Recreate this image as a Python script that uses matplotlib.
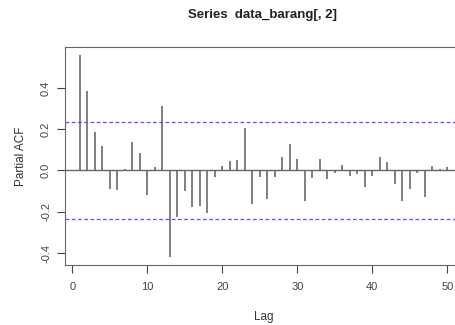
import matplotlib
matplotlib.use("Agg")
import matplotlib.pyplot as plt

plt.rcParams['font.family'] = ['Liberation Sans', 'DejaVu Sans']

# partial autocorrelation values, lags 1..50
lags = list(range(1, 51))
pacf = [0.560, 0.385, 0.185, 0.119, -0.088, -0.093, 0.008, 0.140, 0.084, -0.120,
        0.016, 0.313, -0.418, -0.224, -0.100, -0.176, -0.173, -0.208, -0.032, 0.023,
        0.044, 0.051, 0.205, -0.162, -0.030, -0.138, -0.030, 0.064, 0.127, 0.056,
        -0.146, -0.036, 0.055, -0.041, -0.013, 0.027, -0.029, -0.018, -0.082, -0.026,
        0.064, 0.040, -0.064, -0.146, -0.088, -0.010, -0.130, 0.023, 0.006, 0.016]
ci = 0.234
xticks = [0, 10, 20, 30, 40, 50]
yticks = [-0.4, -0.2, 0.0, 0.2, 0.4]

fig = plt.figure(figsize=(4.55, 3.25), dpi=100)
ax = fig.add_axes([65 / 455, 60 / 325, 397 / 455, 218 / 325])

ax.vlines(lags, 0, pacf, color='#6a6a6a', lw=1.2)
ax.axhline(0, color='#666666', lw=1.0)
ax.axhline(ci, color='#5555ff', lw=0.9, ls=(0, (3, 2)))
ax.axhline(-ci, color='#5555ff', lw=0.9, ls=(0, (3, 2)))

ax.set_xlim(-0.96, 51.96)
ax.set_ylim(-0.458, 0.598)
ax.set_xticks(xticks)
ax.set_yticks(yticks)
ax.set_yticklabels(['-0.4', '-0.2', '0.0', '0.2', '0.4'], rotation=90, va='center')
for s in ax.spines.values():
    s.set_color('#666666')
ax.tick_params(colors='#444444', labelsize=8, length=6, width=0.8, pad=6)
ax.tick_params(axis='y', pad=4)

ax.set_xlabel('Lag', fontsize=8.5, color='#333333', labelpad=14)
ax.set_ylabel('Partial ACF', fontsize=8.5, color='#333333', labelpad=10)
fig.text(263 / 455, 1 - 15 / 325, 'Series  data_barang[, 2]', ha='center', va='center',
         fontsize=9.5, fontweight='bold', color='#222222')

fig.savefig('out.png', dpi=100)
